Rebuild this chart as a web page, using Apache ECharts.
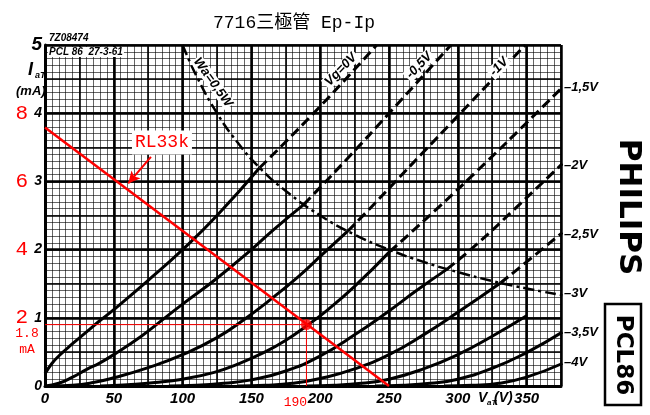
<!DOCTYPE html>
<html><head><meta charset="utf-8">
<script src="https://cdn.jsdelivr.net/npm/echarts@6/dist/echarts.min.js"></script>
<style>html,body{margin:0;padding:0;background:#fff}#c{width:650px;height:415px}</style>
</head><body><div id="c"></div>
<script>
// ---------- data ----------
const titleText = '7716三極管 Ep-Ip';
const vg0   = [[0,0.18],[5,0.33],[10,0.44],[20,0.62],[30,0.79],[40,0.96],[50,1.12],[75,1.55],[100,2.0],[125,2.5],[156,3.2],[200,4.1],[241,5.0]];
const vgN05 = [[0,0],[10,0.04],[20,0.13],[30,0.24],[40,0.34],[50,0.46],[70,0.73],[86,0.98],[100,1.2],[125,1.58],[150,2.0],[166,2.29],[188,2.66],[220,3.34],[251,4.02],[295,5.0]];
const vgN1  = [[5,0],[20,0.01],[35,0.05],[50,0.12],[75,0.27],[100,0.46],[125,0.71],[145,0.98],[164,1.27],[185,1.62],[200,1.9],[220,2.27],[236,2.6],[251,2.92],[275,3.43],[301,3.98],[349,5.0]];
const vgN15 = [[40,0],[60,0.02],[80,0.05],[100,0.1],[123,0.2],[140,0.32],[160,0.5],[175,0.67],[190,0.88],[205,1.11],[225,1.46],[250.5,1.97],[286,2.62],[320,3.27],[350,3.86],[376,4.38]];
const vgN2  = [[90,0],[110,0.01],[130,0.04],[150,0.09],[175,0.22],[200,0.44],[225,0.75],[250,1.1],[270,1.4],[292,1.71],[315,2.1],[340,2.57],[376,3.26]];
const vgN25 = [[140,0],[160,0.01],[180,0.04],[200,0.11],[225,0.25],[250,0.46],[275,0.75],[300,1.08],[331,1.51],[350,1.82],[376,2.25]];
const vgN3  = [[190,0],[210,0.01],[230,0.04],[250,0.1],[275,0.25],[300,0.46],[325,0.73],[350,1.03],[376,1.36]];
const vgN35 = [[240,0],[260,0.01],[280,0.04],[300,0.1],[325,0.26],[350,0.49],[376,0.79]];
const vgN4  = [[290,0],[310,0.01],[330,0.04],[350,0.13],[376,0.33]];
const waCurve = [[100,5.0],[110,4.55],[125,4.0],[140,3.57],[156,3.2],[175,2.86],[200,2.5],[225,2.22],[250,2.0],[275,1.82],[300,1.67],[325,1.54],[350,1.43],[376,1.33]];
const waLimit = 500; // V*mA = 0.5 W
const loadLine = [[0,3.79],[250,0]];
const opPoint = [190,0.9];
const arrowFrom = [77,3.36], arrowTo = [60.5,2.97];
const topLabels = ['Vg=0V','-0,5V','-1V'];
const topLabelAnchors = [[215,4.64],[272,4.7],[330,4.68]];
const rightLabels = ['-1,5V','-2V','-2,5V','-3V','-3,5V','-4V'];
const rightLabelValues = [4.38,3.24,2.22,1.36,0.78,0.34];
const redScaleLabels = [2,4,6,8];

const curves = [vg0,vgN05,vgN1,vgN15,vgN2,vgN25,vgN3,vgN35,vgN4];

// ---------- chart ----------
const chart = echarts.init(document.getElementById('c'));
const ital = {fontStyle:'italic', fontWeight:'bold', fontFamily:'Liberation Sans', color:'#000'};
const hiddenAxis = (extra)=>Object.assign({type:'value', show:true, axisLine:{show:false}, axisTick:{show:false}, axisLabel:{show:false}}, extra);

const series = [];
curves.forEach(c=>{
  const solid = c.filter(p=>p[0]*p[1] <= waLimit*1.02);
  const dashed = c.filter(p=>p[0]*p[1] >= waLimit*0.98);
  series.push({type:'line', data:solid, symbol:'none', smooth:0.5, z:5,
    lineStyle:{color:'#000', width:3}});
  if (dashed.length>1) series.push({type:'line', data:dashed, symbol:'none', smooth:0.5, z:5,
    lineStyle:{color:'#000', width:3, type:[10,5]}});
});
series.push({type:'line', data:waCurve, symbol:'none', smooth:0.5, z:5, lineStyle:{color:'#000', width:2.5, type:[11,4,3,4]}});
series.push({type:'line', data:loadLine, symbol:'none', z:6, lineStyle:{color:'#ff0000', width:2.5},
  markLine:{silent:true, symbol:['none','arrow'], symbolSize:[9,12], label:{show:false},
    lineStyle:{color:'#ff0000', width:2, type:'solid'},
    data:[[{coord:arrowFrom},{coord:arrowTo}]]}});
series.push({type:'line', data:[[0,opPoint[1]],opPoint], symbol:'none', z:6, lineStyle:{color:'#ff0000', width:1}});
series.push({type:'line', data:[opPoint,[opPoint[0],0]], symbol:'none', z:6, lineStyle:{color:'#ff0000', width:1}});
series.push({type:'scatter', data:[opPoint], symbolSize:11, z:7, itemStyle:{color:'#ff0000'}});

chart.setOption({
  animation:false,
  backgroundColor:'#fff',
  title:{text:titleText, left:208, top:9, textStyle:{fontSize:18, fontWeight:'normal', fontFamily:"'Liberation Mono','Noto Sans CJK TC'", color:'#000'}},
  grid:{left:45, right:89, top:45, bottom:29, containLabel:false},
  xAxis:[
    {type:'value', min:0, max:375, interval:50, position:'bottom',
     axisLine:{show:true, onZero:false, lineStyle:{color:'#000', width:3}}, axisTick:{show:false},
     axisLabel:Object.assign({fontSize:15, margin:5, showMaxLabel:false}, ital),
     splitLine:{show:true, lineStyle:{color:'#000', width:2.5}}},
    hiddenAxis({min:0, max:375, interval:5, position:'bottom', splitLine:{show:true, lineStyle:{color:'rgba(0,0,0,0.6)', width:1}}}),
    hiddenAxis({min:0, max:375, interval:25, position:'top', splitLine:{show:true, lineStyle:{color:'#000', width:1.6}}})
  ],
  yAxis:[
    {type:'value', min:0, max:5, interval:1, position:'left',
     axisLine:{show:true, onZero:false, lineStyle:{color:'#000', width:3}}, axisTick:{show:false},
     axisLabel:Object.assign({fontSize:14, margin:3, formatter:v=> v===5?'{b|5}':String(v), rich:{b:{fontSize:19, fontStyle:'italic', fontWeight:'bold', fontFamily:'Liberation Sans'}}}, ital),
     splitLine:{show:true, lineStyle:{color:'#000', width:2.5}}},
    hiddenAxis({min:0, max:5, interval:0.1, position:'left', splitLine:{show:true, lineStyle:{color:'rgba(0,0,0,0.6)', width:1}}}),
    hiddenAxis({min:0, max:5, interval:0.5, position:'right', splitLine:{show:true, lineStyle:{color:'#000', width:1.6}}}),
    {type:'value', min:0, max:10, interval:2, position:'left', offset:15,
     axisLine:{show:false}, axisTick:{show:false}, splitLine:{show:false},
     axisLabel:{margin:2, fontSize:21, color:'#ff0000', fontFamily:'Liberation Mono',
       formatter:v=> redScaleLabels.includes(v)?String(v):''}}
  ],
  series: series
});

// ---------- text overlays anchored on data coords ----------
const px = (p)=>chart.convertToPixel({xAxisIndex:0, yAxisIndex:0}, p);
const g = [];
const T = (x,y,text,opt)=>g.push(Object.assign({type:'text', x:x, y:y, z:101, style:Object.assign({text:text, fill:'#000', fontFamily:'Liberation Sans', fontStyle:'italic', fontWeight:'bold', fontSize:13, align:'left', verticalAlign:'middle'}, opt && opt.style)}, opt && opt.el));

topLabels.forEach((t,i)=>{
  const p = px(topLabelAnchors[i]);
  T(p[0],p[1],t,{el:{rotation:0.8}, style:{align:'center', backgroundColor:'#fff', padding:[0,2]}});
});
const wp = px([122,4.45]);
T(wp[0],wp[1],'Wa=0,5W',{el:{rotation:-0.95}, style:{align:'center', backgroundColor:'#fff', padding:[0,1]}});
rightLabels.forEach((t,i)=>{
  const p = px([375,rightLabelValues[i]]);
  T(p[0]+3,p[1],'\u2013'+t.slice(1),{style:{fontSize:13}});
});
const rl = px([85,3.57]);
T(rl[0],rl[1],'RL33k',{style:{align:'center', fill:'#ff0000', fontStyle:'normal', fontWeight:'normal', fontFamily:'Liberation Mono', fontSize:18, backgroundColor:'#fff', padding:[3,3]}});
const op = px(opPoint);
T(27,op[1]+9,'1.8',{style:{align:'center', fill:'#ff0000', fontStyle:'normal', fontWeight:'normal', fontFamily:'Liberation Mono', fontSize:13}});
T(27,op[1]+25,'mA',{style:{align:'center', fill:'#ff0000', fontStyle:'normal', fontWeight:'normal', fontFamily:'Liberation Mono', fontSize:13}});
const zb = px([opPoint[0],0]);
T(zb[0]-11,403,String(opPoint[0]),{style:{align:'center', fill:'#ff0000', fontStyle:'normal', fontWeight:'normal', fontFamily:'Liberation Mono', fontSize:13}});
// axis names
T(28,70,'I',{style:{fontSize:18}});
T(35,76,'aT',{style:{fontSize:9}});
T(16,91,'(mA)',{style:{fontSize:13}});
T(478,398,'V',{style:{fontSize:14}});
T(487,403,'aT',{style:{fontSize:8}});
T(494,398,'(V)',{style:{fontSize:14}});
// sheet marks
T(49,38,'7Z08474',{style:{fontSize:10}});
T(48,52,'PCL 86  27-3-61',{style:{fontSize:10, backgroundColor:'#fff', padding:[0,1]}});
// brand marks
T(628,207,'PHILIPS',{el:{rotation:-Math.PI/2}, style:{align:'center', fontStyle:'normal', fontWeight:900, fontFamily:'DejaVu Sans', fontSize:31}});
g.push({type:'rect', z:100, shape:{x:605, y:304, width:36, height:101}, style:{fill:'#fff', stroke:'#000', lineWidth:2.5}});
T(623,355,'PCL86',{el:{rotation:-Math.PI/2}, style:{align:'center', fontStyle:'normal', fontWeight:'bold', fontFamily:'DejaVu Sans', fontSize:23}});
chart.setOption({graphic:g});
</script></body></html>
